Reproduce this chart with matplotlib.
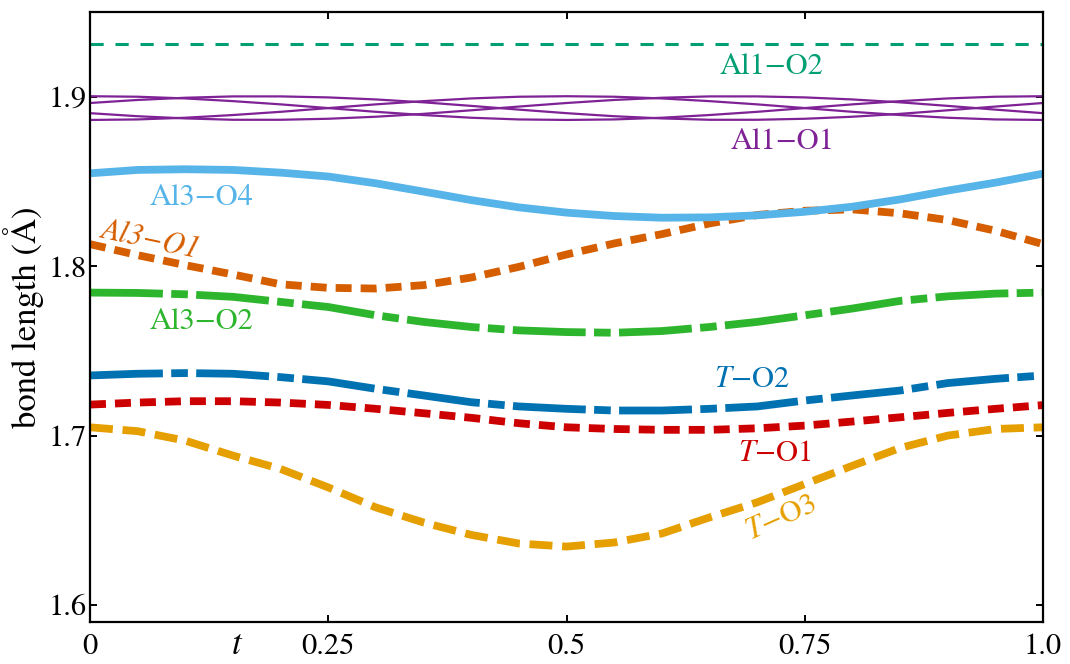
import matplotlib
matplotlib.use('Agg')
import matplotlib.pyplot as plt

plt.rcParams['font.family'] = ['STIXGeneral', 'DejaVu Serif']
plt.rcParams['mathtext.fontset'] = 'stix'
plt.rcParams['lines.scale_dashes'] = False

t = [0.0, 0.05, 0.1, 0.15, 0.2, 0.25, 0.3, 0.35, 0.4, 0.45, 0.5,
     0.55, 0.6, 0.65, 0.7, 0.75, 0.8, 0.85, 0.9, 0.95, 1.0]

al1_o2 = [1.931, 1.931, 1.931, 1.931, 1.931, 1.931, 1.931, 1.931, 1.931, 1.931, 1.931,
          1.931, 1.931, 1.931, 1.931, 1.931, 1.931, 1.931, 1.931, 1.931, 1.931]

al1_o1_a = [1.9003, 1.9000, 1.8990, 1.8974, 1.8955, 1.8933, 1.8911, 1.8892, 1.8876, 1.8866, 1.8863,
            1.8866, 1.8876, 1.8892, 1.8911, 1.8933, 1.8955, 1.8974, 1.8990, 1.9000, 1.9003]
al1_o1_b = [1.8863, 1.8866, 1.8876, 1.8892, 1.8911, 1.8933, 1.8955, 1.8974, 1.8990, 1.9000, 1.9003,
            1.9000, 1.8990, 1.8974, 1.8955, 1.8933, 1.8911, 1.8892, 1.8876, 1.8866, 1.8863]
al1_o1_c = [1.8963, 1.8981, 1.8994, 1.9002, 1.9002, 1.8996, 1.8984, 1.8967, 1.8946, 1.8924, 1.8903,
            1.8885, 1.8872, 1.8864, 1.8864, 1.8870, 1.8882, 1.8899, 1.8920, 1.8942, 1.8963]
al1_o1_d = [1.8903, 1.8885, 1.8872, 1.8864, 1.8864, 1.8870, 1.8882, 1.8899, 1.8920, 1.8942, 1.8963,
            1.8981, 1.8994, 1.9002, 1.9002, 1.8996, 1.8984, 1.8967, 1.8946, 1.8924, 1.8903]

al3_o4 = [1.8548, 1.8568, 1.8572, 1.8568, 1.8552, 1.8529, 1.8489, 1.8440, 1.8390, 1.8347, 1.8316,
          1.8296, 1.8286, 1.8288, 1.8300, 1.8321, 1.8351, 1.8394, 1.8446, 1.8493, 1.8546]
al3_o1 = [1.8130, 1.8065, 1.8006, 1.7951, 1.7893, 1.7872, 1.7868, 1.7888, 1.7933, 1.7996, 1.8069,
          1.8134, 1.8189, 1.8252, 1.8302, 1.8327, 1.8335, 1.8312, 1.8272, 1.8209, 1.8130]
al3_o2 = [1.7844, 1.7842, 1.7834, 1.7819, 1.7789, 1.7759, 1.7710, 1.7671, 1.7641, 1.7621, 1.7611,
          1.7607, 1.7617, 1.7641, 1.7671, 1.7710, 1.7750, 1.7795, 1.7822, 1.7838, 1.7844]
t_o2 = [1.7355, 1.7365, 1.7369, 1.7365, 1.7345, 1.7320, 1.7276, 1.7237, 1.7197, 1.7172, 1.7158,
        1.7148, 1.7148, 1.7158, 1.7172, 1.7207, 1.7237, 1.7266, 1.7310, 1.7335, 1.7355]
t_o1 = [1.7183, 1.7195, 1.7203, 1.7203, 1.7195, 1.7181, 1.7158, 1.7132, 1.7105, 1.7073, 1.7049,
        1.7039, 1.7034, 1.7034, 1.7043, 1.7059, 1.7083, 1.7108, 1.7134, 1.7158, 1.7180]
t_o3 = [1.7049, 1.7026, 1.6970, 1.6882, 1.6803, 1.6694, 1.6576, 1.6487, 1.6414, 1.6363, 1.6345,
        1.6369, 1.6422, 1.6517, 1.6606, 1.6714, 1.6822, 1.6927, 1.7000, 1.7039, 1.7049]

xticks = [0, 0.25, 0.5, 0.75, 1.0]
xticklabels = ['0', '0.25', '0.5', '0.75', '1.0']
yticks = [1.6, 1.7, 1.8, 1.9]

fig = plt.figure(figsize=(10.7, 6.64), dpi=100)
ax = fig.add_axes([0.0841, 0.0633, 0.8907, 0.9186])

teal = '#009E73'
purple = '#7E2295'
skyblue = '#56B4E9'
orange = '#D55E00'
green = '#2DB52D'
blue = '#0072B2'
red = '#CC0000'
yellow = '#E69F00'

ax.plot(t, al1_o2, color=teal, lw=2.2, dashes=(9.5, 8.5))
for ys in (al1_o1_a, al1_o1_b, al1_o1_c, al1_o1_d):
    ax.plot(t, ys, color=purple, lw=1.6)
ax.plot(t, al3_o1, color=orange, lw=5.6, dashes=(11.5, 6.5))
ax.plot(t, al3_o4, color=skyblue, lw=5.6)
dashdot = (52.5, 6, 12, 6)
ax.plot(t, al3_o2, color=green, lw=5.6, dashes=dashdot)
ax.plot(t, t_o2, color=blue, lw=5.6, dashes=dashdot)
ax.plot(t, t_o1, color=red, lw=5.6, dashes=(11.5, 6.5))
ax.plot(t, t_o3, color=yellow, lw=5.6, dashes=(16.5, 7))

fs = 22
ax.text(0.715, 1.9172, 'Al1\u2212O2', color=teal, fontsize=fs, ha='center', va='center')
ax.text(0.727, 1.8734, 'Al1\u2212O1', color=purple, fontsize=fs, ha='center', va='center')
ax.text(0.1175, 1.8402, 'Al3\u2212O4', color=skyblue, fontsize=fs, ha='center', va='center')
ax.text(0.063, 1.8154, 'Al3\u2212O1', color=orange, fontsize=fs, ha='center', va='center',
        rotation=-12, style='italic', rotation_mode='anchor')
ax.text(0.1175, 1.7669, 'Al3\u2212O2', color=green, fontsize=fs, ha='center', va='center')
ax.text(0.695, 1.7325, '$T$\u2212O2', color=blue, fontsize=fs, ha='center', va='center')
ax.text(0.719, 1.6893, '$T$\u2212O1', color=red, fontsize=fs, ha='center', va='center')
ax.text(0.726, 1.6509, '$T$\u2212O3', color=yellow, fontsize=fs, ha='center', va='center',
        rotation=24, rotation_mode='anchor')

ax.set_xlim(0, 1)
ax.set_ylim(1.59, 1.95)
ax.set_xticks(xticks)
ax.set_xticklabels(xticklabels)
ax.set_yticks(yticks)
ax.tick_params(direction='in', top=True, right=True, length=5, width=1.4, labelsize=fs)
ax.tick_params(axis='y', pad=2)
ax.tick_params(axis='x', pad=8)
for sp in ax.spines.values():
    sp.set_linewidth(1.6)

ax.set_ylabel('bond length (\u00c5)', fontsize=25, labelpad=4)
ax.set_xlabel('$t$', fontsize=25)
ax.xaxis.set_label_coords(0.154, -0.013)

plt.savefig('out.png', dpi=100)
